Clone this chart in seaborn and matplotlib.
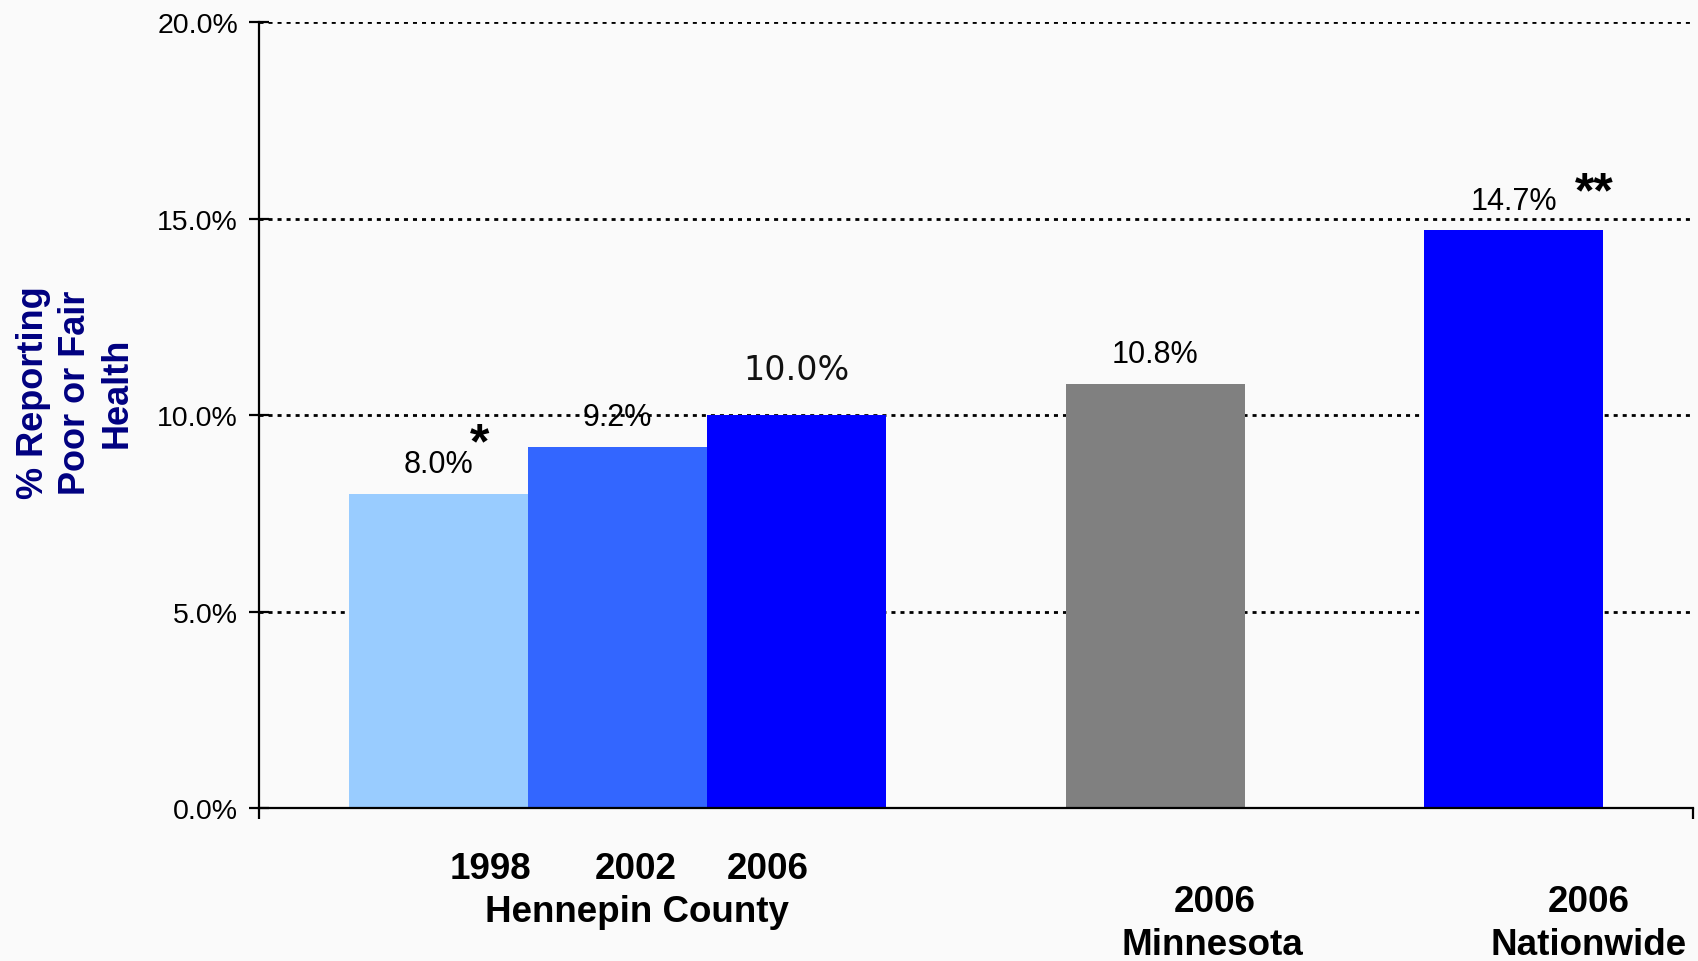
import matplotlib
matplotlib.use('Agg')
import matplotlib.pyplot as plt
import pandas as pd
import seaborn as sns

# values
bar_keys = ['Hennepin 1998', 'Hennepin 2002', 'Hennepin 2006', 'Minnesota 2006', 'Nationwide 2006']
pct_values = [8.0, 9.2, 10.0, 10.8, 14.7]
bar_colors = ['#99CCFF', '#3366FF', '#0000FF', '#808080', '#0000FF']
value_labels = ['8.0%', '9.2%', '10.0%', '10.8%', '14.7%']
y_ticks = [0, 5, 10, 15, 20]

# slot order on the axis, blanks are the gaps between groups
slot_order = ['Hennepin 1998', 'Hennepin 2002', 'Hennepin 2006', 'gap a',
              'Minnesota 2006', 'gap b', 'Nationwide 2006']

df = pd.DataFrame({'key': bar_keys, 'pct': pct_values})

sns.set_theme(style='white')
plt.rcParams['font.family'] = ['Liberation Sans', 'DejaVu Sans']
plt.rcParams['text.color'] = 'black'
plt.rcParams['axes.labelcolor'] = 'black'
plt.rcParams['xtick.color'] = 'black'
plt.rcParams['ytick.color'] = 'black'

fig = plt.figure(figsize=(16.98, 9.62), dpi=100, facecolor='#FAFAFA')
ax = fig.add_axes([0.1525, 0.159, 0.8445, 0.817])
ax.set_facecolor('#FAFAFA')

sns.barplot(data=df, x='key', y='pct', hue='key', order=slot_order,
            hue_order=bar_keys, palette=dict(zip(bar_keys, bar_colors)),
            width=1.0, saturation=1.0, legend=False, linewidth=0, ax=ax)

ax.set_xlim(-1, 7)
ax.set_ylim(0, 20)
ax.set_yticks(y_ticks)
ax.set_yticklabels([f'{t:.1f}%' for t in y_ticks], fontsize=20.5)
ax.set_xticks([-1, 7])
ax.set_xticklabels(['', ''])
ax.tick_params(axis='x', direction='out', length=8, width=1.6, color='black', bottom=True)
ax.tick_params(axis='y', direction='inout', length=14, width=1.6, color='black', left=True, pad=8)

ax.yaxis.grid(True, color='black', linewidth=2.0, linestyle=(0, (1.45, 1.8)))
ax.xaxis.grid(False)
ax.set_axisbelow(True)

for side in ['top', 'right']:
    ax.spines[side].set_visible(False)
for side in ['left', 'bottom']:
    ax.spines[side].set_color('black')
    ax.spines[side].set_linewidth(1.6)

ax.set_xlabel('')
ax.set_ylabel('% Reporting\nPoor or Fair\nHealth', fontsize=26, fontweight='bold',
              color='#000080', linespacing=1.25, va='center', ha='center')
ax.yaxis.set_label_coords(-0.128, 0.53)

# value labels above the bars
positions = [slot_order.index(k) for k in bar_keys]
for pos, val, lab in zip(positions, pct_values, value_labels):
    if lab == '10.0%':
        ax.text(pos, val + 1.15, lab, ha='center', va='center', fontsize=24,
                family='DejaVu Sans', color='#111111')
    else:
        ax.text(pos, val + 0.75, lab, ha='center', va='center', fontsize=22, color='black')

ax.text(0.23, 9.25, '*', ha='center', va='center', fontsize=36, fontweight='bold')
ax.text(6.45, 15.65, '**', ha='center', va='center', fontsize=36, fontweight='bold')

# category labels under the axis
xt = ax.get_xaxis_transform()
lab_kw = dict(ha='center', va='center', fontsize=26.5, fontweight='bold', transform=xt,
              clip_on=False)
ax.text(0.29, -0.0763, '1998', **lab_kw)
ax.text(1.10, -0.0763, '2002', **lab_kw)
ax.text(1.84, -0.0763, '2006', **lab_kw)
ax.text(1.11, -0.132, 'Hennepin County', **lab_kw)
ax.text(4.33, -0.119, '2006', **lab_kw)
ax.text(4.32, -0.174, 'Minnesota', **lab_kw)
ax.text(6.42, -0.119, '2006', **lab_kw)
ax.text(6.42, -0.174, 'Nationwide', **lab_kw)

fig.savefig('out.png', dpi=100, facecolor=fig.get_facecolor())
